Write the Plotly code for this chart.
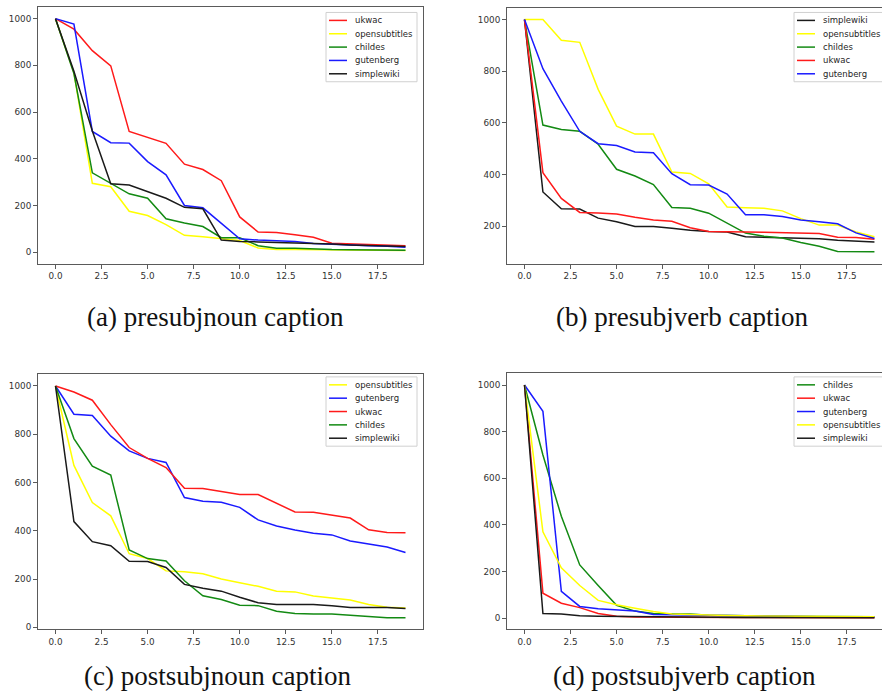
import plotly.graph_objects as go

W, H = 882, 699

# rank position (x) shared by every series
steps = list(range(20))

# (a) presubjnoun
pn_ukwac = [1000, 955, 863, 798, 517, 491, 466, 377, 354, 306, 151, 86, 84, 75, 64, 38, 35, 32, 30, 28]
pn_opensubtitles = [1000, 768, 295, 280, 175, 157, 118, 72, 66, 58, 50, 18, 12, 12, 11, 10, 9, 8, 7, 7]
pn_childes = [1000, 765, 340, 295, 250, 231, 143, 125, 110, 62, 62, 28, 17, 17, 13, 11, 10, 9, 8, 8]
pn_gutenberg = [1000, 977, 517, 469, 467, 388, 331, 200, 190, 125, 57, 52, 50, 46, 37, 35, 32, 28, 25, 21]
pn_simplewiki = [1000, 775, 519, 293, 288, 258, 231, 192, 186, 52, 46, 44, 42, 41, 38, 35, 31, 27, 26, 24]

# (b) presubjverb
pv_simplewiki = [1000, 333, 268, 267, 232, 218, 200, 200, 193, 185, 180, 178, 160, 158, 157, 156, 152, 146, 144, 140]
pv_opensubtitles = [1000, 1000, 920, 912, 730, 588, 557, 557, 410, 405, 365, 275, 272, 270, 260, 230, 205, 205, 178, 160]
pv_childes = [1000, 592, 575, 568, 518, 421, 395, 362, 273, 270, 251, 212, 174, 162, 155, 138, 123, 103, 102, 102]
pv_ukwac = [1000, 408, 308, 254, 252, 248, 235, 225, 220, 195, 180, 180, 178, 177, 175, 172, 172, 158, 157, 150]
pv_gutenberg = [1000, 810, 685, 568, 520, 513, 488, 485, 404, 361, 360, 325, 245, 245, 238, 225, 218, 210, 175, 153]

# (c) postsubjnoun
sn_opensubtitles = [1000, 671, 517, 462, 305, 285, 234, 230, 222, 200, 185, 170, 150, 147, 130, 123, 113, 95, 83, 80]
sn_gutenberg = [1000, 883, 878, 792, 731, 700, 683, 538, 522, 518, 497, 445, 420, 403, 390, 383, 358, 346, 333, 310]
sn_ukwac = [1000, 975, 941, 840, 745, 700, 662, 576, 575, 562, 550, 550, 513, 478, 477, 465, 453, 404, 393, 392]
sn_childes = [1000, 782, 668, 631, 321, 285, 275, 193, 131, 115, 92, 90, 67, 57, 55, 55, 50, 45, 40, 40]
sn_simplewiki = [1000, 438, 355, 338, 274, 273, 248, 178, 162, 150, 125, 102, 95, 95, 95, 90, 82, 82, 82, 78]

# (d) postsubjverb
sv_childes = [1000, 700, 437, 228, 140, 55, 30, 20, 18, 18, 12, 10, 10, 9, 8, 8, 7, 7, 6, 6]
sv_ukwac = [1000, 107, 64, 45, 20, 8, 5, 4, 4, 3, 3, 3, 3, 3, 3, 2, 2, 2, 2, 2]
sv_gutenberg = [1000, 887, 115, 50, 40, 35, 30, 15, 14, 12, 10, 8, 7, 6, 6, 5, 5, 5, 4, 4]
sv_opensubtitles = [1000, 370, 216, 140, 76, 57, 42, 28, 18, 15, 12, 11, 10, 9, 8, 8, 7, 7, 7, 6]
sv_simplewiki = [1000, 20, 18, 10, 8, 7, 6, 5, 5, 4, 4, 4, 3, 3, 3, 3, 3, 2, 2, 2]

x_ticks = [0, 2.5, 5, 7.5, 10, 12.5, 15, 17.5]
y_ticks = [0, 200, 400, 600, 800, 1000]

COLORS = {
    "ukwac": "#ff1a1a",
    "opensubtitles": "#ffff00",
    "childes": "#138a13",
    "gutenberg": "#1a1aff",
    "simplewiki": "#1a1a1a",
}

panels = [
    dict(ax="", caption="(a) presubjnoun caption",
         series=[("ukwac", pn_ukwac), ("opensubtitles", pn_opensubtitles),
                 ("childes", pn_childes), ("gutenberg", pn_gutenberg),
                 ("simplewiki", pn_simplewiki)],
         box=(38, 423, 7, 265), xr=(-0.95, 19.95), yr=(-50, 1050), right=True,
         leg=(326, 417, 12.5), cap=(215.5, 318.5)),
    dict(ax="2", caption="(b) presubjverb caption",
         series=[("simplewiki", pv_simplewiki), ("opensubtitles", pv_opensubtitles),
                 ("childes", pv_childes), ("ukwac", pv_ukwac),
                 ("gutenberg", pv_gutenberg)],
         box=(507, 882, 8, 265), xr=(-0.95, 19.41), yr=(55, 1045), right=False,
         leg=(794, 900, 12.5), cap=(681.5, 318.5)),
    dict(ax="3", caption="(c) postsubjnoun caption",
         series=[("opensubtitles", sn_opensubtitles), ("gutenberg", sn_gutenberg),
                 ("ukwac", sn_ukwac), ("childes", sn_childes),
                 ("simplewiki", sn_simplewiki)],
         box=(38, 423, 376, 632), xr=(-0.95, 19.95), yr=(-8, 1048), right=True,
         leg=(326, 417, 378.5), cap=(217, 678.5)),
    dict(ax="4", caption="(d) postsubjverb caption",
         series=[("childes", sv_childes), ("ukwac", sv_ukwac),
                 ("gutenberg", sv_gutenberg), ("opensubtitles", sv_opensubtitles),
                 ("simplewiki", sv_simplewiki)],
         box=(507, 882, 375, 632), xr=(-0.95, 19.41), yr=(-48, 1050), right=False,
         leg=(794, 900, 378.5), cap=(684, 678.5)),
]


def px(x):
    return x / W


def py(y):
    return 1 - y / H


FRAME = "#5a5a5a"
TICK_FONT = dict(family="DejaVu Sans", size=8.8, color="#333333")
LEGEND_FONT = dict(family="DejaVu Sans", size=8.5, color="#262626")

fig = go.Figure()
shapes, annotations = [], []
layout = {}

for p in panels:
    xa, ya = "x" + p["ax"], "y" + p["ax"]
    x0, x1, y0, y1 = p["box"]
    for name, vals in p["series"]:
        fig.add_trace(go.Scatter(
            x=steps, y=vals, mode="lines", name=name, showlegend=False,
            line=dict(color=COLORS[name], width=1.5),
            xaxis=xa, yaxis=ya, hoverinfo="skip",
        ))
    common = dict(showline=True, linecolor=FRAME, linewidth=1, ticks="outside",
                  ticklen=4, tickwidth=1, tickcolor=FRAME, tickfont=TICK_FONT,
                  showgrid=False, zeroline=False, fixedrange=True)
    layout["xaxis" + p["ax"]] = dict(
        common, domain=[px(x0), min(1, px(x1))], range=list(p["xr"]),
        anchor=ya, mirror=True, tickmode="array", tickvals=x_ticks,
        ticktext=[f"{t:.1f}" for t in x_ticks])
    layout["yaxis" + p["ax"]] = dict(
        common, domain=[py(y1), py(y0)], range=list(p["yr"]),
        anchor=xa, mirror=p["right"], tickmode="array", tickvals=y_ticks,
        ticktext=[str(t) for t in y_ticks])

    # legend frame and entries
    lx0, lx1, ltop = p["leg"]
    row_gap = 13.4
    lbot = ltop + 8 + 4 * row_gap + 8
    shapes.append(dict(type="rect", xref="paper", yref="paper", layer="above",
                       x0=px(lx0), x1=px(lx1), y0=py(lbot), y1=py(ltop),
                       line=dict(color="#d0d0d0", width=1),
                       fillcolor="rgba(255,255,255,0.85)"))
    for i, (name, _) in enumerate(p["series"]):
        ry = ltop + 8 + i * row_gap
        shapes.append(dict(type="line", xref="paper", yref="paper", layer="above",
                           x0=px(lx0 + 3), x1=px(lx0 + 21), y0=py(ry), y1=py(ry),
                           line=dict(color=COLORS[name], width=1.5)))
        annotations.append(dict(xref="paper", yref="paper", x=px(lx0 + 27), y=py(ry),
                                xanchor="left", yanchor="middle", showarrow=False,
                                text=name, font=LEGEND_FONT))

    cx, cy = p["cap"]
    annotations.append(dict(xref="paper", yref="paper", x=px(cx), y=py(cy),
                            xanchor="center", yanchor="middle", showarrow=False,
                            text=p["caption"],
                            font=dict(family="Liberation Serif", size=27, color="#111111")))

fig.update_layout(
    width=W, height=H, margin=dict(l=0, r=0, t=0, b=0),
    paper_bgcolor="white", plot_bgcolor="white",
    showlegend=False, shapes=shapes, annotations=annotations, **layout,
)

fig.write_html("out.html", config={"displayModeBar": False})
